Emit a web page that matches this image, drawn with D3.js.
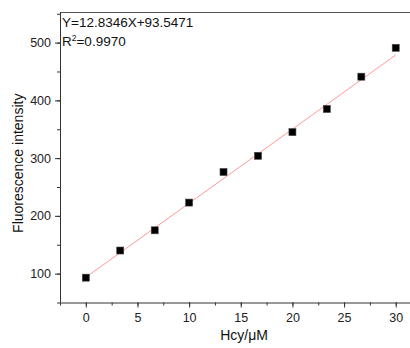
<!DOCTYPE html>
<html>
<head>
<meta charset="utf-8">
<script src="https://cdn.jsdelivr.net/npm/d3@7"></script>
<style>
  html, body { margin: 0; padding: 0; background: #fff; }
  svg { display: block; font-family: "Liberation Sans", Arial, sans-serif; }
</style>
</head>
<body>
<svg id="chart" width="410" height="348"></svg>
<script>
// Hcy concentration (µM) and measured fluorescence intensity
const concentrations = [0, 3.33, 6.67, 10, 13.33, 16.67, 20, 23.33, 26.67, 30];
const intensities = [93, 140, 175, 223, 276, 304, 345, 385, 441, 491];

// Linear fit reported on the chart
const fitSlope = 12.8346;
const fitIntercept = 93.5471;
const fitR2 = "0.9970";

const xTickValues = [0, 5, 10, 15, 20, 25, 30];
const yTickValues = [100, 200, 300, 400, 500];

const svg = d3.select("#chart");
const plotLeft = 60, plotTop = 12, plotBottom = 302.5;

const x = d3.scaleLinear().domain([-2.5, 32.5]).range([plotLeft, plotLeft + 35 * 10.33]);
const y = d3.scaleLinear().domain([50, 553]).range([plotBottom, plotTop]);

const axisColor = "#333";

// Top frame line
svg.append("line")
  .attr("x1", plotLeft).attr("x2", 410)
  .attr("y1", plotTop + 0.5).attr("y2", plotTop + 0.5)
  .attr("stroke", "#555").attr("stroke-width", 1);

// X axis: minor + major ticks
const xMinor = svg.append("g").attr("transform", `translate(0,${plotBottom})`)
  .call(d3.axisBottom(x).tickValues(d3.range(-2.5, 32.6, 2.5)).tickSize(3).tickFormat(""));
xMinor.select(".domain").remove();
const xMajor = svg.append("g").attr("transform", `translate(0,${plotBottom})`)
  .call(d3.axisBottom(x).tickValues(xTickValues).tickSize(5).tickPadding(6));
[xMinor, xMajor].forEach(g => {
  g.selectAll("line").attr("stroke", axisColor);
  g.selectAll("path").attr("stroke", axisColor);
});
xMajor.select(".domain").attr("d", `M${plotLeft},0.5H410`);
xMajor.selectAll("text").attr("font-size", 12.5).attr("fill", "#222")
  .attr("font-family", "Liberation Sans, Arial, sans-serif");

// Y axis: minor + major ticks
const yMinor = svg.append("g").attr("transform", `translate(${plotLeft},0)`)
  .call(d3.axisLeft(y).tickValues(d3.range(50, 551, 50)).tickSize(3).tickFormat(""));
yMinor.select(".domain").remove();
const yMajor = svg.append("g").attr("transform", `translate(${plotLeft},0)`)
  .call(d3.axisLeft(y).tickValues(yTickValues).tickSize(5).tickPadding(4));
[yMinor, yMajor].forEach(g => {
  g.selectAll("line").attr("stroke", axisColor);
  g.selectAll("path").attr("stroke", axisColor);
});
yMajor.select(".domain").attr("d", `M0.5,${plotTop}V${plotBottom}`);
yMajor.selectAll("text").attr("font-size", 12.5).attr("fill", "#222")
  .attr("font-family", "Liberation Sans, Arial, sans-serif");

// Fitted line
svg.append("line")
  .attr("x1", x(0)).attr("y1", y(fitIntercept))
  .attr("x2", x(30)).attr("y2", y(fitSlope * 30 + fitIntercept))
  .attr("stroke", "#ff9a9a").attr("stroke-width", 1);

// Data points
const s = 7;
svg.append("g").selectAll("rect")
  .data(concentrations.map((c, i) => [c, intensities[i]]))
  .join("rect")
  .attr("x", d => x(d[0]) - s / 2)
  .attr("y", d => y(d[1]) - s / 2)
  .attr("width", s).attr("height", s)
  .attr("fill", "#000").attr("stroke", "#444").attr("stroke-width", 0.6);

// Equation annotation
const ann = svg.append("g").attr("font-size", 13.5).attr("fill", "#111");
ann.append("text").attr("x", plotLeft + 2).attr("y", 27)
  .text(`Y=${fitSlope}X+${fitIntercept}`);
const r2 = ann.append("text").attr("x", plotLeft + 2).attr("y", 46);
r2.append("tspan").text("R");
r2.append("tspan").attr("font-size", 8.5).attr("dy", -5.5).text("2");
r2.append("tspan").attr("dy", 5.5).text(`=${fitR2}`);

// Axis titles
svg.append("text")
  .attr("x", (plotLeft + 410) / 2 + 9).attr("y", 340)
  .attr("text-anchor", "middle").attr("font-size", 14).attr("fill", "#111")
  .text("Hcy/μM");
svg.append("text")
  .attr("transform", `translate(23,${(plotTop + plotBottom) / 2 + 6}) rotate(-90)`)
  .attr("text-anchor", "middle").attr("font-size", 14).attr("fill", "#111")
  .text("Fluorescence intensity");
</script>
</body>
</html>
